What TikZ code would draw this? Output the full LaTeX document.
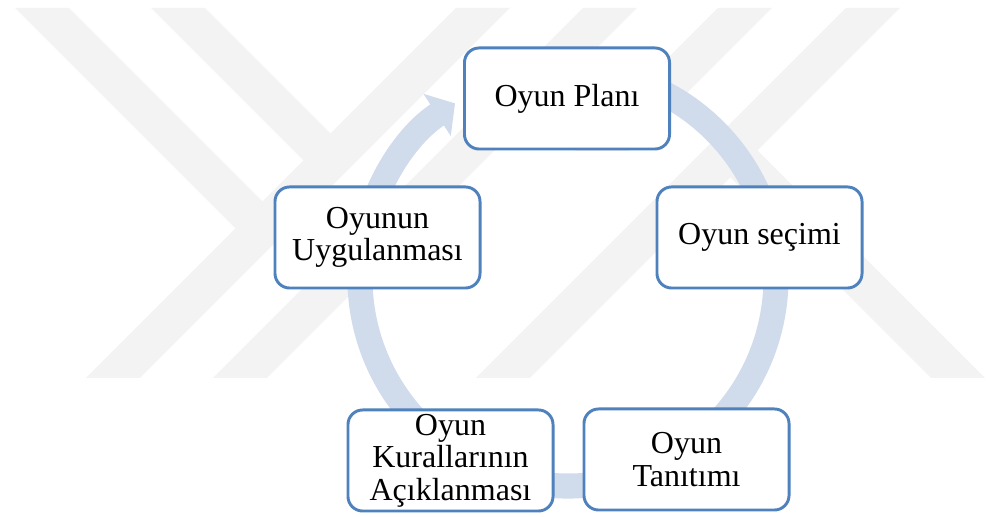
\documentclass[tikz,border=0pt]{standalone}
\usepackage{fontspec}
\setmainfont{Liberation Serif}
\usetikzlibrary{arrows.meta}
\definecolor{boxblue}{RGB}{79,129,189}
\definecolor{ringblue}{RGB}{208,219,236}
\definecolor{markgray}{RGB}{243,243,243}
\begin{document}
\begin{tikzpicture}[x=0.375pt, y=0.375pt,
		stage/.style={draw=boxblue, line width=1.1pt, fill=white, rounded corners=5.5pt, minimum width=76.9pt, minimum height=37.9pt, inner sep=1pt, align=center, font=\fontsize{12}{12.2}\selectfont},
		ring/.style={draw=ringblue, line width=9.4pt},
		wmark/.style={fill=markgray}]
			\useasboundingbox (0,0) rectangle (986,517);
%			\draw[help lines, step=50] (0,0) grid (986,517);
			% watermark bands
			\fill[wmark] (86,139) -- (140,139) -- (510,509) -- (456,509) -- cycle;
			\fill[wmark] (213,139) -- (267,139) -- (637,509) -- (583,509) -- cycle;
			\fill[wmark] (476,139) -- (530,139) -- (900,509) -- (846,509) -- cycle;
			\fill[wmark] (15,509) -- (69,509) -- (289.5,288.5) -- (235.5,288.5) -- cycle;
			\fill[wmark] (151,509) -- (205,509) -- (357.5,356.5) -- (303.5,356.5) -- cycle;
			\fill[wmark] (703.5,366.5) -- (757.5,366.5) -- (985,139) -- (931,139) -- cycle;
			\fill[wmark] (718,509) -- (772,509) -- (629,366) -- (575,366) -- cycle;
			% cycle
			\coordinate (ring) at (568,239);
			\draw[ring, -{Triangle[width=18.4pt, length=8pt]}] (ring) ++(80:208) arc[start angle=80, end angle=-237.1, radius=208];
			\node[stage] (plan) at (567,418.5) {Oyun Planı};
			\node[stage] (secim) at (759.5,279.5) {Oyun seçimi};
			\node[stage] (tanitim) at (686.5,57.5) {Oyun\\Tanıtımı};
			\node[stage] (kural) at (450.5,56.5) {Oyun\\Kurallarının\\Açıklanması};
			\node[stage] (uygulama) at (377.5,279.5) {Oyunun\\Uygulanması};
		\end{tikzpicture}
\end{document}
